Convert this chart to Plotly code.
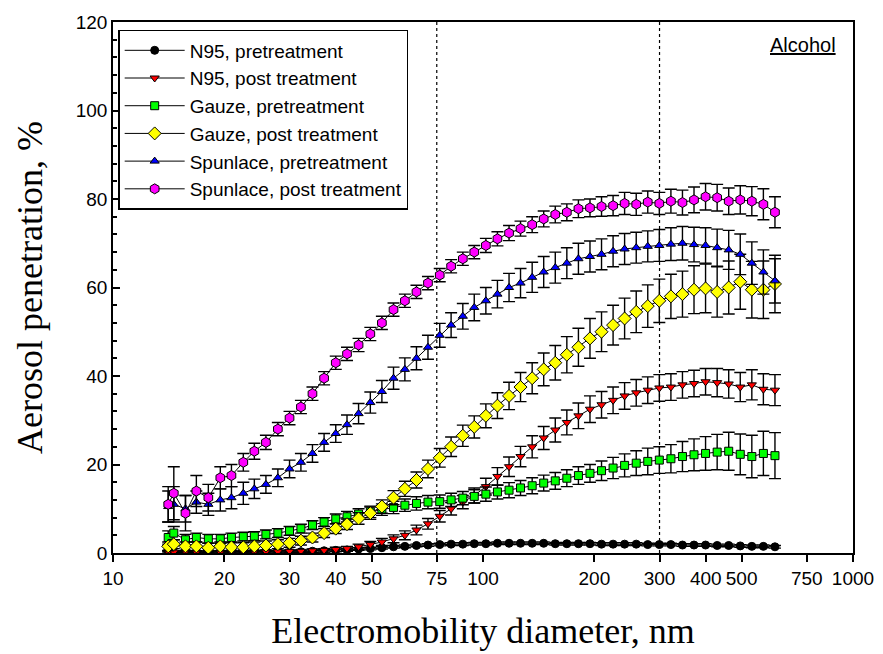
import plotly.graph_objects as go

# Electromobility diameter channels (nm)
diameter = [14.1, 14.6, 15.7, 16.8, 18.1, 19.5, 20.9, 22.5, 24.1, 25.9, 27.9, 30.0, 32.2, 34.6,
            37.2, 40.0, 42.9, 46.1, 49.6, 53.3, 57.3, 61.5, 66.1, 71.0, 76.4, 82.0, 88.2, 94.7,
            101.8, 109.4, 117.6, 126.3, 135.8, 145.9, 156.8, 168.5, 181.1, 194.6, 209.1, 224.7,
            241.4, 259.5, 278.8, 299.6, 322.0, 346.0, 371.8, 399.5, 429.4, 461.4, 495.8, 532.8,
            572.5, 615.3]

n95_pre = [0.1, 0.1, 0.1, 0.1, 0.1, 0.1, 0.1, 0.1, 0.1, 0.1, 0.2, 0.2, 0.3, 0.4,
           0.5, 0.6, 0.7, 0.9, 1.0, 1.2, 1.4, 1.5, 1.7, 1.8, 1.9, 2.0, 2.0, 2.1,
           2.1, 2.2, 2.2, 2.2, 2.2, 2.2, 2.1, 2.1, 2.1, 2.1, 2.0, 2.0,
           2.0, 2.0, 1.9, 1.9, 1.9, 1.8, 1.8, 1.8, 1.7, 1.7, 1.6, 1.5,
           1.5, 1.4]
n95_pre_err = [0.3] * 54

n95_post = [0.3, 0.2, 0.3, 0.2, 0.3, 0.2, 0.3, 0.3, 0.3, 0.3, 0.3, 0.4, 0.4, 0.5,
            0.6, 0.8, 1.0, 1.4, 1.9, 2.5, 3.2, 4.0, 5.2, 6.6, 8.3, 10.0, 11.5, 13.0,
            15.0, 17.3, 19.5, 21.8, 24.0, 26.0, 27.8, 29.5, 31.0, 32.5, 33.5, 34.5,
            35.5, 36.2, 36.8, 37.3, 37.5, 38.0, 38.3, 38.7, 38.5, 38.2, 37.5, 38.0,
            37.0, 36.8]
n95_post_err = [0.3, 0.3, 0.3, 0.3, 0.3, 0.3, 0.3, 0.3, 0.3, 0.3, 0.3, 0.3, 0.3, 0.4,
                0.4, 0.5, 0.5, 0.6, 0.7, 0.8, 0.9, 1.0, 1.1, 1.2, 1.3, 1.4, 1.5, 1.7,
                1.9, 2.0, 2.2, 2.3, 2.5, 2.6, 2.7, 2.8, 2.9, 3.0, 3.0, 3.0,
                3.0, 3.0, 3.0, 3.0, 3.0, 3.0, 3.0, 3.0, 3.2, 3.2, 3.3, 3.4,
                3.5, 3.5]

gauze_pre = [3.5, 4.5, 3.0, 3.5, 3.2, 3.2, 3.5, 3.7, 3.8, 4.2, 4.5, 5.0, 5.5, 6.3,
             7.0, 7.7, 8.2, 8.8, 9.3, 9.8, 10.3, 10.8, 11.2, 11.5, 11.6, 12.0, 12.4, 12.8,
             13.3, 13.8, 14.2, 14.7, 15.2, 15.8, 16.3, 16.9, 17.5, 18.0, 18.6, 19.2,
             19.8, 20.3, 20.7, 21.0, 21.3, 21.8, 22.2, 22.5, 22.8, 23.0, 22.3, 21.8,
             22.5, 22.0]
gauze_pre_err = [1.5, 1.5, 1.2, 1.0, 1.0, 1.0, 1.0, 1.0, 1.0, 1.0, 1.0, 1.0, 1.0, 1.0,
                 1.0, 1.1, 1.2, 1.2, 1.3, 1.3, 1.4, 1.4, 1.5, 1.5, 1.5, 1.5, 1.5, 1.5,
                 1.6, 1.6, 1.7, 1.7, 1.8, 1.8, 1.9, 1.9, 2.0, 2.0, 2.2, 2.4,
                 2.6, 2.8, 3.0, 3.0, 3.2, 3.4, 3.6, 3.8, 4.0, 4.3, 4.6, 4.8,
                 5.0, 5.2]

gauze_post = [1.5, 2.0, 1.5, 1.5, 1.2, 1.5, 1.3, 1.3, 1.5, 1.7, 2.0, 2.3, 2.8, 3.5,
              4.5, 5.5, 6.5, 7.8, 9.0, 10.5, 12.5, 14.5, 16.5, 19.0, 21.5, 24.0, 26.5, 28.5,
              31.0, 33.3, 35.5, 37.5, 39.5, 41.5, 43.0, 44.8, 46.5, 48.5, 50.0, 51.5,
              53.0, 54.5, 55.8, 57.0, 58.0, 58.5, 59.5, 59.8, 59.0, 60.0, 61.3, 59.5,
              59.5, 60.8]
gauze_post_err = [1.0, 1.0, 1.0, 1.0, 1.0, 1.0, 1.0, 1.0, 1.0, 1.0, 1.0, 1.0, 1.0, 1.0,
                  1.0, 1.1, 1.2, 1.3, 1.4, 1.5, 1.6, 1.7, 1.8, 2.0, 2.1, 2.2, 2.4, 2.5,
                  2.7, 2.9, 3.1, 3.3, 3.5, 3.7, 3.9, 4.1, 4.3, 4.5, 4.5, 4.5,
                  4.6, 4.7, 4.8, 4.9, 5.0, 5.2, 5.4, 5.5, 5.7, 6.0, 6.2, 6.4,
                  6.5, 6.5]

spunlace_pre = [10.5, 11.0, 10.0, 11.5, 11.0, 12.0, 12.5, 13.5, 14.5, 15.5, 17.0, 19.0, 20.5, 22.5,
                25.0, 27.0, 29.0, 31.5, 34.0, 36.5, 39.5, 41.5, 44.0, 46.5, 49.2, 51.5, 53.5, 55.5,
                57.0, 58.5, 60.0, 61.0, 62.3, 63.5, 64.5, 65.5, 66.5, 67.0, 67.5, 68.2,
                68.7, 69.0, 69.3, 69.5, 69.8, 70.0, 69.7, 69.5, 69.0, 68.5, 67.5, 65.5,
                63.5, 61.5]
spunlace_pre_err = [3.5, 4.0, 3.0, 2.5, 2.5, 2.5, 2.5, 2.5, 2.2, 2.0, 2.0, 2.0, 2.0, 2.0,
                    2.0, 2.0, 2.2, 2.3, 2.4, 2.5, 2.5, 2.6, 2.6, 2.7, 2.7, 2.8, 2.9, 3.0,
                    3.0, 3.1, 3.2, 3.3, 3.4, 3.5, 3.5, 3.5, 3.5, 3.5, 3.5, 3.5,
                    3.5, 3.5, 3.5, 3.6, 3.7, 3.8, 3.9, 4.0, 4.2, 4.4, 4.6, 4.8,
                    5.0, 5.0]

spunlace_post = [11.0, 13.5, 9.0, 14.0, 12.5, 17.0, 17.5, 20.5, 23.0, 25.0, 28.0, 30.5, 33.0, 36.0,
                 39.5, 43.0, 45.0, 47.0, 49.5, 52.0, 55.0, 57.0, 59.0, 61.0, 62.8, 64.8, 66.5, 68.0,
                 69.5, 71.0, 72.3, 73.3, 74.2, 75.5, 76.5, 77.0, 77.8, 78.0, 78.3, 78.5,
                 79.0, 78.8, 79.3, 79.0, 79.5, 79.2, 79.8, 80.5, 80.3, 79.5, 79.8, 79.5,
                 78.8, 77.0]
spunlace_post_err = [4.0, 6.0, 4.0, 3.5, 3.0, 2.5, 2.5, 2.0, 1.8, 1.6, 1.5, 1.5, 1.5, 1.5,
                     1.5, 1.5, 1.5, 1.5, 1.5, 1.5, 1.5, 1.5, 1.5, 1.5, 1.5, 1.5, 1.5, 1.5,
                     1.6, 1.6, 1.7, 1.7, 1.8, 1.8, 1.9, 1.9, 2.0, 2.0, 2.2, 2.3,
                     2.5, 2.5, 2.5, 2.5, 2.7, 2.8, 2.9, 3.0, 3.0, 3.0, 3.2, 3.3,
                     3.5, 3.5]

series_names = ["N95, pretreatment", "N95, post treatment", "Gauze, pretreatment",
                "Gauze, post treatment", "Spunlace, pretreatment", "Spunlace, post treatment"]
series_values = [n95_pre, n95_post, gauze_pre, gauze_post, spunlace_pre, spunlace_post]
series_errors = [n95_pre_err, n95_post_err, gauze_pre_err, gauze_post_err,
                 spunlace_pre_err, spunlace_post_err]
series_colors = ["#000000", "#FF0000", "#00FF00", "#FFFF00", "#0000FF", "#FF00FF"]
series_symbols = ["circle", "triangle-down", "square", "diamond", "triangle-up", "hexagon"]
series_sizes = [8, 8, 8, 10, 8, 10]

x_tick_vals = [10, 20, 30, 40, 50, 75, 100, 200, 300, 400, 500, 750, 1000]
x_tick_text = ["10", "20", "30", "40", "50", "75", "100", "200", "300", "400", "500", "750", "1000"]
ref_lines = [75, 300]
y_range = [0, 120]

fig = go.Figure()

for xr in ref_lines:
    fig.add_trace(go.Scatter(x=[xr, xr], y=y_range, mode="lines",
                             line=dict(color="black", width=1.2, dash="dot"),
                             showlegend=False, hoverinfo="skip"))

for name, vals, errs, col, sym, sz in zip(series_names, series_values, series_errors,
                                          series_colors, series_symbols, series_sizes):
    fig.add_trace(go.Scatter(
        x=diameter, y=vals, name=name, mode="lines+markers",
        line=dict(color="black", width=1),
        marker=dict(symbol=sym, size=sz, color=col, line=dict(color="black", width=1)),
        error_y=dict(type="data", array=errs, visible=True, color="black",
                     thickness=1.4, width=6),
    ))

fig.add_annotation(x=0.932, y=0.957, xref="paper", yref="paper",
                   xanchor="center", yanchor="middle",
                   text="<u>Alcohol</u>", showarrow=False,
                   font=dict(family="Liberation Sans, Arial", size=20, color="black"))

fig.update_layout(
    width=883, height=654,
    margin=dict(l=105, r=38, t=14, b=109, autoexpand=False),
    paper_bgcolor="white", plot_bgcolor="white",
    font=dict(family="Liberation Sans, Arial", color="black"),
    legend=dict(x=0.007, y=0.985, xanchor="left", yanchor="top",
                bgcolor="white", bordercolor="black", borderwidth=1.5,
                font=dict(family="Liberation Sans, Arial", size=19, color="black"),
                itemwidth=60, tracegroupgap=0),
    xaxis=dict(type="log", range=[1, 3], tickvals=x_tick_vals, ticktext=x_tick_text,
               automargin=False,
               ticks="outside", ticklen=7, tickwidth=1.5, tickcolor="black",
               showline=True, linecolor="black", linewidth=1.5, mirror=True,
               showgrid=False, zeroline=False,
               tickfont=dict(family="Liberation Sans, Arial", size=19),
               title=dict(text="Electromobility diameter, nm", standoff=30,
                          font=dict(family="Liberation Serif, Times New Roman", size=36))),
    yaxis=dict(range=y_range, dtick=20, ticks="inside", ticklen=7, tickwidth=1.5,
               automargin=False,
               tickcolor="black", showline=True, linecolor="black", linewidth=1.5,
               mirror=True, showgrid=False, zeroline=False,
               minor=dict(dtick=4, ticks="inside", ticklen=4, tickcolor="black"),
               tickfont=dict(family="Liberation Sans, Arial", size=19),
               title=dict(text="Aerosol penetration, %", standoff=22,
                          font=dict(family="Liberation Serif, Times New Roman", size=36))),
)

fig.write_html("out.html")
